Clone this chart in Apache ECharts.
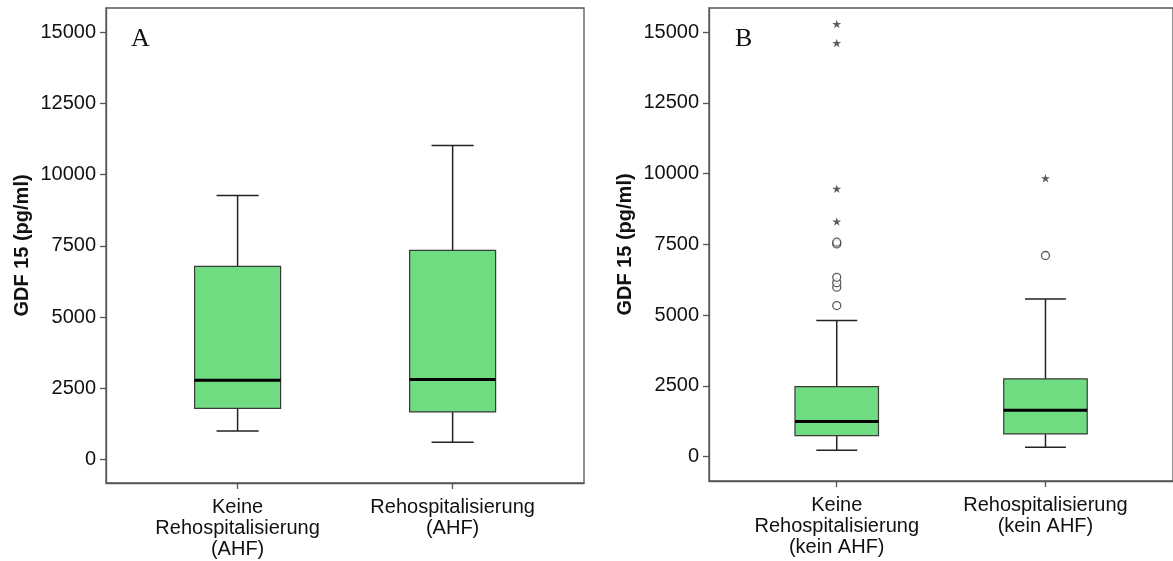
<!DOCTYPE html>
<html>
<head>
<meta charset="utf-8">
<script src="https://cdn.jsdelivr.net/npm/echarts@6/dist/echarts.min.js"></script>
<style>
  html, body { margin: 0; padding: 0; background: #fff; }
  #chart { width: 1173px; height: 561px; }
</style>
</head>
<body>
<div id="chart"></div>
<script>
// Group labels for the two panels
const categoriesA = ['Keine\nRehospitalisierung\n(AHF)', 'Rehospitalisierung\n(AHF)'];
const categoriesB = ['Keine\nRehospitalisierung\n(kein AHF)', 'Rehospitalisierung\n(kein AHF)'];

// Five-number summaries per group: [min, Q1, median, Q3, max] (pg/ml)
const boxesA = [
  [1010, 1800, 2785, 6780, 9270],
  [610, 1675, 2810, 7340, 11020]
];
const boxesB = [
  [230, 745, 1240, 2475, 4810],
  [330, 805, 1640, 2750, 5570]
];

// Panel B: outliers (circles) and extreme values (stars) per group
const outliersB = [
  [5340, 5990, 6150, 6340, 7520, 7580],
  [7110]
];
const extremesB = [
  [8310, 9470, 14620, 15290],
  [9840]
];

const yTicks = [0, 2500, 5000, 7500, 10000, 12500, 15000];
const panelLetters = ['A', 'B'];
const yTitle = 'GDF 15 (pg/ml)';

const FONT = 'Liberation Sans, Arial, sans-serif';
const BOX_FILL = '#70dc82';
const STAR = 'path://M50 0 L61.17 34.63 L97.55 34.55 L68.07 55.87 L79.39 90.45 L50 69 L20.61 90.45 L31.93 55.87 L2.45 34.55 L38.83 34.63 Z';

// Box-and-whisker glyph drawn in data coordinates
function renderBox(params, api) {
  const x = api.value(0);
  const mn = api.value(1), q1 = api.value(2), md = api.value(3), q3 = api.value(4), mx = api.value(5);
  const halfBox = 0.2, halfCap = 0.098;
  const p = (dx, y) => api.coord([x + dx, y]);
  const ln = (a, b, style) => ({
    type: 'line',
    shape: { x1: a[0], y1: a[1], x2: b[0], y2: b[1] },
    style: style
  });
  const whisker = { stroke: '#222', lineWidth: 1.5 };
  const tl = p(-halfBox, q3), br = p(halfBox, q1);
  return {
    type: 'group',
    children: [
      ln(p(0, mx), p(0, q3), whisker),
      ln(p(0, q1), p(0, mn), whisker),
      ln(p(-halfCap, mx), p(halfCap, mx), whisker),
      ln(p(-halfCap, mn), p(halfCap, mn), whisker),
      {
        type: 'rect',
        shape: { x: tl[0], y: tl[1], width: br[0] - tl[0], height: br[1] - tl[1] },
        style: { fill: BOX_FILL, stroke: '#3a3a3a', lineWidth: 1.2 }
      },
      ln(p(-halfBox, md), p(halfBox, md), { stroke: '#000', lineWidth: 3 })
    ]
  };
}

function boxData(boxes) {
  return boxes.map((b, i) => [i + 1].concat(b));
}
function pointData(groups) {
  const out = [];
  groups.forEach((vals, i) => vals.forEach(v => out.push([i + 1, v])));
  return out;
}

function xAxisFor(gridIndex, cats) {
  return {
    type: 'value', gridIndex: gridIndex, min: 0.388, max: 2.611,
    axisLine: { show: true, onZero: false, lineStyle: { color: '#555', width: 1.3 } },
    axisTick: { show: true, customValues: [1, 2], length: 6, lineStyle: { color: '#555', width: 1.3 } },
    axisLabel: {
      customValues: [1, 2], margin: 14, color: '#111',
      fontFamily: FONT, fontSize: 20, lineHeight: 21, align: 'center',
      formatter: v => cats[Math.round(v) - 1] || ''
    },
    splitLine: { show: false }
  };
}
function yAxisFor(gridIndex, min, max) {
  return {
    type: 'value', gridIndex: gridIndex, min: min, max: max,
    name: yTitle, nameLocation: 'middle', nameGap: 74,
    nameTextStyle: { fontFamily: FONT, fontSize: 20, fontWeight: 'bold', color: '#111' },
    axisLine: { show: true, onZero: false, lineStyle: { color: '#555', width: 1.3 } },
    axisTick: { show: true, customValues: yTicks, length: 6, lineStyle: { color: '#555', width: 1.3 } },
    axisLabel: {
      customValues: yTicks, margin: 10, color: '#111', fontFamily: FONT, fontSize: 20,
      formatter: v => String(v)
    },
    splitLine: { show: false }
  };
}

const letterStyle = { fontFamily: 'Liberation Serif, Times New Roman, serif', fontSize: 26, fontWeight: 'normal', color: '#111' };

const chart = echarts.init(document.getElementById('chart'), null, { renderer: 'canvas' });
chart.setOption({
  backgroundColor: '#fff',
  animation: false,
  title: [
    { text: panelLetters[0], left: 131, top: 26, padding: 0, textStyle: letterStyle },
    { text: panelLetters[1], left: 735, top: 26, padding: 0, textStyle: letterStyle }
  ],
  grid: [
    { left: 106, top: 8, width: 478, height: 475, show: true, borderColor: '#555', borderWidth: 1.3, backgroundColor: '#fff' },
    { left: 709, top: 8, width: 472, height: 473, show: true, borderColor: '#555', borderWidth: 1.3, backgroundColor: '#fff' }
  ],
  xAxis: [xAxisFor(0, categoriesA), xAxisFor(1, categoriesB)],
  yAxis: [yAxisFor(0, -817, 15842), yAxisFor(1, -859, 15856)],
  series: [
    { type: 'custom', name: 'A', xAxisIndex: 0, yAxisIndex: 0, renderItem: renderBox,
      encode: { x: 0, y: [1, 2, 3, 4, 5] }, data: boxData(boxesA) },
    { type: 'custom', name: 'B', xAxisIndex: 1, yAxisIndex: 1, renderItem: renderBox,
      encode: { x: 0, y: [1, 2, 3, 4, 5] }, data: boxData(boxesB) },
    { type: 'scatter', name: 'Ausreißer', xAxisIndex: 1, yAxisIndex: 1,
      symbol: 'circle', symbolSize: 8,
      itemStyle: { color: '#fff', borderColor: '#333', borderWidth: 1.3 },
      data: pointData(outliersB) },
    { type: 'scatter', name: 'Extremwerte', xAxisIndex: 1, yAxisIndex: 1,
      symbol: STAR, symbolSize: 9, symbolKeepAspect: true,
      itemStyle: { color: '#333' },
      data: pointData(extremesB) }
  ]
});
</script>
</body>
</html>
